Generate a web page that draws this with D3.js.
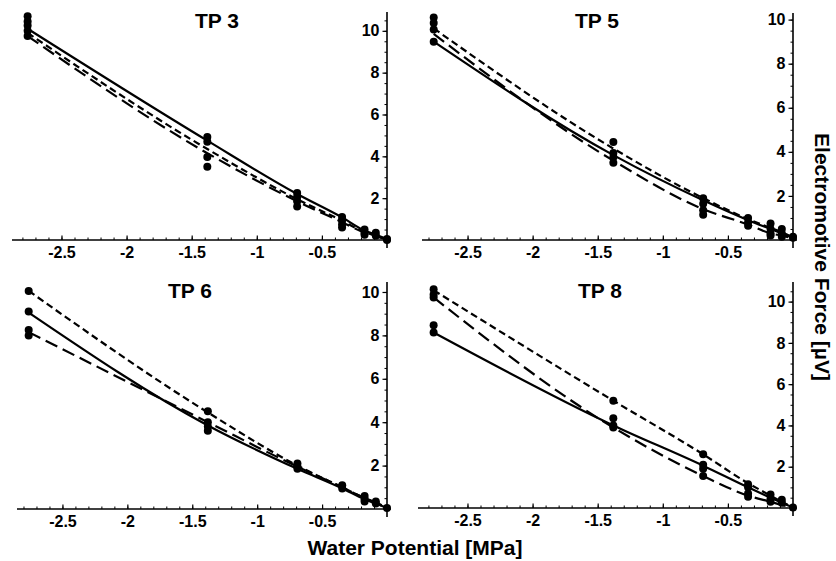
<!DOCTYPE html>
<html>
<head>
<meta charset="utf-8">
<script src="https://cdn.jsdelivr.net/npm/d3@7"></script>
<style>
  body { margin: 0; background: #fff; }
  svg { display: block; font-family: "Liberation Sans", Arial, sans-serif; }
</style>
</head>
<body>
<div id="chart"></div>
<script>
// water potential of the calibration solutions (MPa)
const potentials = [-2.76, -1.38, -0.69, -0.345, -0.1725, -0.086, 0];
const xMajorTicks = [-2.5, -2, -1.5, -1, -0.5];
const yMajorTicks = [2, 4, 6, 8, 10];

// fitted curves, one value per potential
const tp3Solid = [10.1, 4.75, 2.2, 1.08, 0.45, 0.25, 0.05];
const tp3Long  = [9.75, 4.15, 1.85, 0.85, 0.35, 0.18, 0.02];
const tp3Short = [9.9, 4.35, 1.95, 0.92, 0.38, 0.2, 0.03];
const tp3Points = [[10.7, 10.45, 10.25, 10.0, 9.75], [4.93, 4.7, 3.97, 3.5], [2.25, 2.05, 1.85, 1.6],
                   [1.1, 0.95, 0.75, 0.6], [0.5, 0.35, 0.25], [0.35, 0.2], [0.05, 0]];

const tp5Solid = [9.0, 3.85, 1.8, 0.9, 0.5, 0.3, 0.1];
const tp5Long  = [9.35, 3.6, 1.4, 0.7, 0.3, 0.2, 0.08];
const tp5Short = [9.6, 4.15, 1.9, 0.95, 0.55, 0.35, 0.12];
const tp5Points = [[10.1, 9.85, 9.55, 9.0], [4.45, 3.95, 3.75, 3.5], [1.9, 1.65, 1.35, 1.15],
                   [1.0, 0.8, 0.65], [0.75, 0.5, 0.3, 0.2], [0.5, 0.3, 0.15], [0.15, 0.1]];

const tp6Solid = [9.05, 3.85, 1.85, 0.95, 0.45, 0.25, 0.05];
const tp6Long  = [8.15, 4.0, 1.95, 1.0, 0.5, 0.28, 0.05];
const tp6Short = [10.05, 4.45, 2.0, 1.0, 0.5, 0.3, 0.05];
const tp6Points = [[10.05, 9.1, 8.25, 8.0], [4.5, 4.0, 3.8, 3.6], [2.1, 1.95, 1.85],
                   [1.1, 0.95], [0.6, 0.45, 0.35], [0.35, 0.25], [0.05]];

const tp8Solid = [8.5, 4.0, 2.05, 1.0, 0.5, 0.25, 0.02];
const tp8Long  = [10.2, 3.9, 1.55, 0.6, 0.3, 0.15, 0.02];
const tp8Short = [10.55, 5.2, 2.6, 1.2, 0.6, 0.3, 0.02];
const tp8Points = [[10.6, 10.35, 10.2, 8.85, 8.5], [5.2, 4.35, 4.0, 3.9], [2.6, 2.1, 1.9, 1.55],
                   [1.15, 1.0, 0.7, 0.55], [0.65, 0.45, 0.3], [0.4, 0.25], [0.02]];

// panel placement (pixels) and axis extents
const panels = [
  { title: "TP 3", solid: tp3Solid, long: tp3Long, short: tp3Short, points: tp3Points,
    xMin: -2.88, yMax: 10.9, left: 12, ox: 387, top: 12, oy: 240, tx: 217, ty: 28 },
  { title: "TP 5", solid: tp5Solid, long: tp5Long, short: tp5Short, points: tp5Points,
    xMin: -2.85, yMax: 10.3, left: 422, ox: 793, top: 13, oy: 240, tx: 597, ty: 28 },
  { title: "TP 6", solid: tp6Solid, long: tp6Long, short: tp6Short, points: tp6Points,
    xMin: -2.85, yMax: 10.46, left: 17, ox: 387, top: 282, oy: 509, tx: 190, ty: 298 },
  { title: "TP 8", solid: tp8Solid, long: tp8Long, short: tp8Short, points: tp8Points,
    xMin: -2.88, yMax: 10.95, left: 418, ox: 793, top: 282, oy: 508, tx: 600, ty: 298 }
];

const layout = { width: 836, height: 561 };
const fontFamily = '"Liberation Sans", Arial, sans-serif';

const svg = d3.select("#chart").append("svg")
    .attr("width", layout.width)
    .attr("height", layout.height);

panels.forEach(p => {
    let x = d3.scaleLinear().domain([p.xMin, 0]).range([p.left, p.ox]);
    let y = d3.scaleLinear().domain([0, p.yMax]).range([p.oy, p.top]);
    let g = svg.append("g");

    // x axis: minor ticks then major ticks with labels
    let xMinor = d3.range(-28, 0).map(i => i / 10).filter(v => v >= p.xMin);
    g.append("g")
        .attr("transform", `translate(0,${p.oy})`)
        .call(d3.axisBottom(x).tickValues(xMinor).tickSizeInner(-2.5).tickSizeOuter(0).tickFormat(""))
        .call(a => a.select(".domain").remove())
        .selectAll("line").attr("stroke", "#000").attr("stroke-width", 1);

    let xAxis = g.append("g")
        .attr("transform", `translate(0,${p.oy})`)
        .call(d3.axisBottom(x).tickValues(xMajorTicks).tickSizeInner(-4.5).tickSizeOuter(0)
            .tickPadding(7).tickFormat(d => String(d)));
    xAxis.select(".domain").remove();
    xAxis.selectAll("line").attr("stroke", "#000").attr("stroke-width", 1.2);
    xAxis.attr("font-family", fontFamily).attr("font-size", 16).attr("font-weight", "bold");
    xAxis.selectAll("text").attr("fill", "#000");

    // y axis on the right, labels on its left
    let yMinor = d3.range(1, Math.floor(p.yMax * 2) + 1).map(i => i / 2);
    g.append("g")
        .attr("transform", `translate(${p.ox},0)`)
        .call(d3.axisLeft(y).tickValues(yMinor).tickSizeInner(2.5).tickSizeOuter(0).tickFormat(""))
        .call(a => a.select(".domain").remove())
        .selectAll("line").attr("stroke", "#000").attr("stroke-width", 1);

    let yAxis = g.append("g")
        .attr("transform", `translate(${p.ox},0)`)
        .call(d3.axisLeft(y).tickValues(yMajorTicks).tickSizeInner(4.5).tickSizeOuter(0).tickPadding(3));
    yAxis.select(".domain").remove();
    yAxis.selectAll("line").attr("stroke", "#000").attr("stroke-width", 1.2);
    yAxis.attr("font-family", fontFamily).attr("font-size", 16).attr("font-weight", "bold");
    yAxis.selectAll("text").attr("fill", "#000");

    // axis lines
    g.append("line")
        .attr("x1", p.left).attr("x2", p.ox + 4)
        .attr("y1", p.oy).attr("y2", p.oy)
        .attr("stroke", "#000").attr("stroke-width", 1.6);
    g.append("line")
        .attr("x1", p.ox).attr("x2", p.ox)
        .attr("y1", p.top).attr("y2", p.oy + 8)
        .attr("stroke", "#000").attr("stroke-width", 1.6);

    // curves
    let line = d3.line()
        .x((d, i) => x(potentials[i]))
        .y(d => y(d))
        .curve(d3.curveMonotoneX);
    [[p.solid, null], [p.long, "13,6"], [p.short, "7,4"]].forEach(([vals, dash]) => {
        g.append("path")
            .datum(vals)
            .attr("d", line)
            .attr("fill", "none")
            .attr("stroke", "#000")
            .attr("stroke-width", 2.2)
            .attr("stroke-dasharray", dash);
    });

    // replicate measurements
    let pts = [];
    p.points.forEach((vals, i) => vals.forEach(v => pts.push({ wp: potentials[i], emf: v })));
    g.selectAll("circle")
        .data(pts)
        .enter().append("circle")
        .attr("cx", d => x(d.wp))
        .attr("cy", d => y(d.emf))
        .attr("r", 4)
        .attr("fill", "#000");

    // panel title
    g.append("text")
        .attr("x", p.tx).attr("y", p.ty)
        .attr("text-anchor", "middle")
        .attr("font-family", fontFamily)
        .attr("font-size", 21)
        .attr("font-weight", "bold")
        .text(p.title);
});

// shared axis titles
svg.append("text")
    .attr("x", 415).attr("y", 555)
    .attr("text-anchor", "middle")
    .attr("font-family", fontFamily)
    .attr("font-size", 21)
    .attr("font-weight", "bold")
    .text("Water Potential [MPa]");

svg.append("text")
    .attr("transform", "translate(815,257) rotate(90)")
    .attr("text-anchor", "middle")
    .attr("font-family", fontFamily)
    .attr("font-size", 21)
    .attr("font-weight", "bold")
    .text("Electromotive Force [µV]");
</script>
</body>
</html>
